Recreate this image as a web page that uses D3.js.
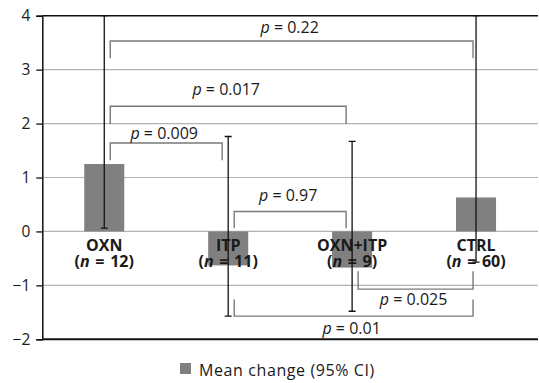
<!DOCTYPE html>
<html>
<head>
<meta charset="utf-8">
<script src="https://cdn.jsdelivr.net/npm/d3@7"></script>
<style>
  body { margin: 0; background: #fff; }
  svg { display: block; font-family: "Open Sans", "Noto Sans", sans-serif; }
</style>
</head>
<body>
<div id="chart"></div>
<script>
// data
const categories = ['OXN', 'ITP', 'OXN+ITP', 'CTRL'];
const groupSizes = [12, 11, 9, 60];
const meanChange = [1.25, -0.63, -0.67, 0.63];
const ciLower = [0.06, -1.57, -1.48, -0.57];
const ciUpper = [4.0, 1.76, 1.67, 4.0];
const yTicks = [-2, -1, 0, 1, 2, 3, 4];

// comparisons: groups, bracket level, leg end, label baseline (all in y units)
const comparisons = [
    { a: 0, b: 3, level: 3.53, leg: 3.21, labelAt: 3.67, p: '0.22' },
    { a: 0, b: 2, level: 2.32, leg: 1.99, labelAt: 2.53, p: '0.017' },
    { a: 0, b: 1, level: 1.64, leg: 1.32, labelAt: 1.71, p: '0.009' },
    { a: 1, b: 2, level: 0.37, leg: 0.06, labelAt: 0.56, p: '0.97' },
    { a: 2, b: 3, level: -1.07, leg: -0.74, labelAt: -1.37, p: '0.025' },
    { a: 1, b: 3, level: -1.57, leg: -1.26, labelAt: -1.91, p: '0.01' }
];

const width = 539, height = 383;
const margin = { top: 15.7, right: 1, bottom: 43.7, left: 42.3 };

const svg = d3.select('#chart')
    .append('svg')
    .attr('width', width)
    .attr('height', height);

const x = d3.scaleBand()
    .domain(categories)
    .range([margin.left, width - margin.right])
    .paddingInner(0.677)
    .paddingOuter(0.677 / 2);

const y = d3.scaleLinear()
    .domain([-2, 4])
    .range([height - margin.bottom, margin.top]);

const cx = i => x(categories[i]) + x.bandwidth() / 2;

svg.append('clipPath')
    .attr('id', 'plot-clip')
    .append('rect')
    .attr('x', margin.left)
    .attr('y', margin.top)
    .attr('width', width - margin.left - margin.right)
    .attr('height', height - margin.top - margin.bottom);

// grid
svg.append('g')
    .selectAll('line')
    .data(yTicks.filter(d => d > -2 && d < 4))
    .join('line')
    .attr('x1', margin.left)
    .attr('x2', width - margin.right)
    .attr('y1', d => y(d))
    .attr('y2', d => y(d))
    .attr('stroke', '#b3b3b3')
    .attr('stroke-width', 1.2);

// bars
svg.append('g')
    .selectAll('rect')
    .data(meanChange)
    .join('rect')
    .attr('x', (d, i) => x(categories[i]))
    .attr('width', x.bandwidth())
    .attr('y', d => Math.min(y(d), y(0)))
    .attr('height', d => Math.abs(y(d) - y(0)))
    .attr('fill', '#808080');

// category labels
const labels = svg.append('g')
    .attr('font-size', 16)
    .attr('font-weight', 'bold')
    .attr('fill', '#1a1a1a')
    .attr('text-anchor', 'middle');

labels.selectAll('text.name')
    .data(categories)
    .join('text')
    .attr('class', 'name')
    .attr('x', (d, i) => cx(i))
    .attr('y', y(0) + 20)
    .text(d => d);

const nLabels = labels.selectAll('text.n')
    .data(groupSizes)
    .join('text')
    .attr('class', 'n')
    .attr('x', (d, i) => cx(i))
    .attr('y', y(0) + 35.6)
    .attr('word-spacing', 1.5);
nLabels.append('tspan').text('(');
nLabels.append('tspan').attr('font-style', 'italic').text('n');
nLabels.append('tspan').text(d => ' = ' + d + ')');

// brackets
const brackets = svg.append('g')
    .attr('fill', 'none')
    .attr('stroke', '#7a7a7a')
    .attr('stroke-width', 1.4);

brackets.selectAll('path')
    .data(comparisons)
    .join('path')
    .attr('d', d => {
        const x1 = cx(d.a) + 6, x2 = cx(d.b) - (d.b === 3 ? 3 : 6);
        return 'M' + x1 + ',' + y(d.leg) + 'V' + y(d.level) + 'H' + x2 + 'V' + y(d.leg);
    });

const pLabels = svg.append('g')
    .attr('font-size', 16)
    .attr('fill', '#1a1a1a')
    .attr('text-anchor', 'middle')
    .selectAll('text')
    .data(comparisons)
    .join('text')
    .attr('x', d => (cx(d.a) + 6 + cx(d.b) - (d.b === 3 ? 3 : 6)) / 2 - 2)
    .attr('y', d => y(d.labelAt));
pLabels.append('tspan').attr('font-style', 'italic').text('p');
pLabels.append('tspan').text(d => ' = ' + d.p);

// error bars
const errors = svg.append('g')
    .attr('clip-path', 'url(#plot-clip)')
    .attr('stroke', '#111')
    .attr('stroke-width', 1.3)
    .attr('fill', 'none');

errors.selectAll('path')
    .data(categories)
    .join('path')
    .attr('d', (d, i) => {
        const c = cx(i), lo = y(ciLower[i]), hi = y(ciUpper[i]);
        return 'M' + c + ',' + hi + 'V' + lo +
            'M' + (c - 3.5) + ',' + lo + 'H' + (c + 3.5) +
            'M' + (c - 3.5) + ',' + hi + 'H' + (c + 3.5);
    });

// y axis
const yAxis = svg.append('g')
    .attr('transform', 'translate(' + margin.left + ',0)')
    .call(d3.axisLeft(y).tickValues(yTicks).tickFormat(d3.format('d')).tickSize(6).tickPadding(6));

yAxis.selectAll('text')
    .attr('font-size', 15.5)
    .attr('font-family', '"Open Sans", sans-serif')
    .attr('fill', '#1a1a1a');

yAxis.selectAll('line').attr('stroke', '#111').attr('stroke-width', 1.3);
yAxis.select('.domain').attr('stroke', '#111').attr('stroke-width', 1.5);

// frame top / bottom
svg.append('g')
    .attr('stroke', '#111')
    .selectAll('line')
    .data([4, -2])
    .join('line')
    .attr('x1', margin.left)
    .attr('x2', width - margin.right)
    .attr('y1', d => y(d))
    .attr('y2', d => y(d))
    .attr('stroke-width', d => d === -2 ? 2 : 1.5);

// legend
const legend = svg.append('g')
    .attr('transform', 'translate(180,363)');
legend.append('rect')
    .attr('width', 11)
    .attr('height', 11)
    .attr('fill', '#808080');
legend.append('text')
    .attr('x', 19)
    .attr('y', 12.5)
    .attr('font-size', 16)
    .attr('letter-spacing', 0.6)
    .attr('fill', '#1a1a1a')
    .text('Mean change (95% CI)');
</script>
</body>
</html>
